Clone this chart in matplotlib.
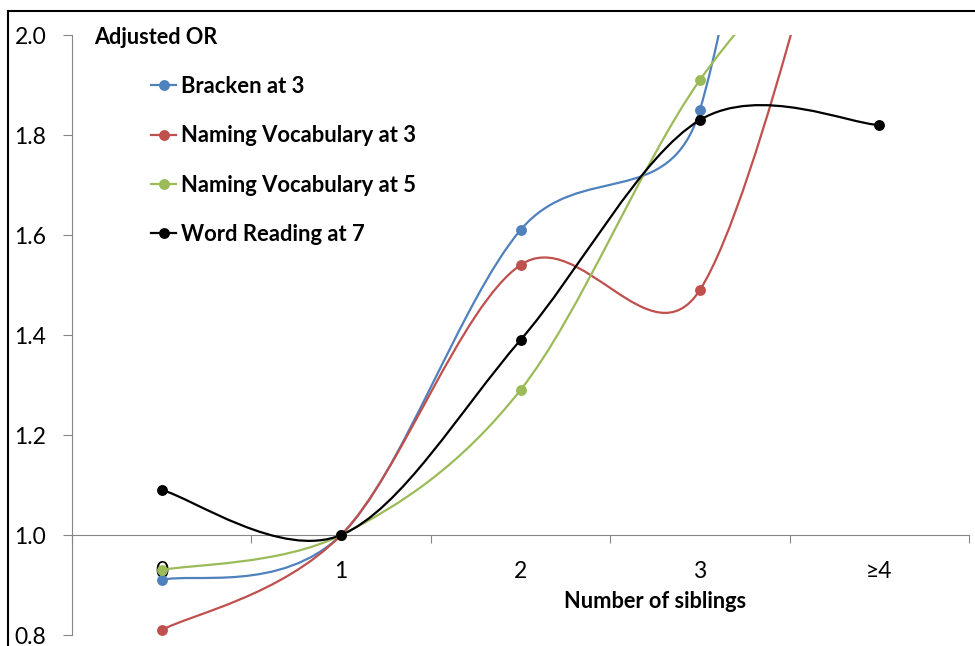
import matplotlib
matplotlib.use('Agg')
import matplotlib.pyplot as plt
from matplotlib.path import Path
from matplotlib.patches import PathPatch
from matplotlib.lines import Line2D
import numpy as np

categories = ['0', '1', '2', '3', '≥4']
bracken_3 = [0.91, 1.00, 1.61, 1.85, 4.04]
naming_vocab_3 = [0.81, 1.00, 1.54, 1.49, 2.66]
naming_vocab_5 = [0.93, 1.00, 1.29, 1.91, 2.31]
word_reading_7 = [1.09, 1.00, 1.39, 1.83, 1.82]
series_names = ['Bracken at 3', 'Naming Vocabulary at 3',
                'Naming Vocabulary at 5', 'Word Reading at 7']
series_values = [bracken_3, naming_vocab_3, naming_vocab_5, word_reading_7]
colors = ['#4F81BD', '#C0504D', '#9BBB59', '#000000']
yticks = [0.8, 1.0, 1.2, 1.4, 1.6, 1.8, 2.0]
ytick_labels = ['0.8', '1.0', '1.2', '1.4', '1.6', '1.8', '2.0']

plt.rcParams['font.family'] = ['Lato', 'DejaVu Sans']

AXIS_GRAY = '#868686'


def smooth_path(ax, xs, ys):
    """Excel-like smoothed line: cubic Bezier segments built in screen space,
    with control arms limited to half of the segment length."""
    data = np.column_stack([xs, ys]).astype(float)
    pts = ax.transData.transform(data)
    n = len(pts)
    verts = [pts[0]]
    codes = [Path.MOVETO]
    for i in range(n - 1):
        p0 = pts[i - 1] if i > 0 else pts[i]
        p1 = pts[i]
        p2 = pts[i + 1]
        p3 = pts[i + 2] if i + 2 < n else pts[i + 1]
        d02 = np.hypot(*(p2 - p0))
        d12 = np.hypot(*(p2 - p1))
        d13 = np.hypot(*(p3 - p1))
        f0 = 1 / 6.0
        f1 = 1 / 6.0
        if d02 / 6.0 >= d12 / 2.0 and d02 > 0:
            f0 = d12 / 2.0 / d02
        if d13 / 6.0 >= d12 / 2.0 and d13 > 0:
            f1 = d12 / 2.0 / d13
        c1 = p1 + (p2 - p0) * f0
        c2 = p2 - (p3 - p1) * f1
        verts += [c1, c2, p2]
        codes += [Path.CURVE4] * 3
    verts = ax.transData.inverted().transform(np.array(verts))
    return Path(verts, codes)


W, H = 975, 646
fig = plt.figure(figsize=(W / 100, H / 100), dpi=100)
ax = fig.add_axes([72 / W, 1 - 635 / H, 897 / W, 600 / H])

x = np.arange(len(categories))
ax.set_xlim(-0.5, len(categories) - 0.5)
ax.set_ylim(0.8, 2.0)

handles = []
for name, vals, col in zip(series_names, series_values, colors):
    patch = PathPatch(smooth_path(ax, x, vals), facecolor='none', edgecolor=col,
                      lw=1.6, transform=ax.transData, zorder=3)
    ax.add_patch(patch)
    ax.plot(x, vals, 'o', color=col, ms=6.8, zorder=4)
    handles.append(Line2D([], [], color=col, lw=1.6, marker='o', ms=6.8))

for s in ['top', 'right']:
    ax.spines[s].set_visible(False)
ax.spines['left'].set_color(AXIS_GRAY)
ax.spines['bottom'].set_color(AXIS_GRAY)
ax.spines['bottom'].set_position(('data', 1.0))

ax.set_yticks(yticks)
ax.set_yticklabels(ytick_labels)
ax.tick_params(axis='y', direction='out', length=6.5, color=AXIS_GRAY,
               labelsize=16.5, pad=12)

ax.set_xticks(np.arange(len(categories) + 1) - 0.5)
ax.set_xticklabels([''] * (len(categories) + 1))
ax.set_xticks(x, minor=True)
ax.set_xticklabels(categories, minor=True)
ax.tick_params(axis='x', which='major', direction='out', length=6, color=AXIS_GRAY)
ax.tick_params(axis='x', which='minor', length=0, labelsize=16.5, pad=19)

fig.text(655 / W, 1 - 602 / H, 'Number of siblings', fontsize=15.7,
         fontweight='bold', ha='center', va='center')
fig.text(94 / W, 1 - 37 / H, 'Adjusted OR', fontsize=15.6,
         fontweight='bold', ha='left', va='center')

ax.legend(handles, series_names, loc='upper left',
          bbox_to_anchor=(151 / W, 1 - 76 / H), bbox_transform=fig.transFigure,
          frameon=False, prop={'weight': 'bold', 'size': 15.8},
          handlelength=1.15, handletextpad=0.22, labelspacing=1.29,
          borderpad=0, borderaxespad=0)

# outer chart border (cut at right and bottom in the reference)
fig.add_artist(Line2D([8 / W, 1], [1 - 11 / H, 1 - 11 / H], color='black', lw=1.5,
                      transform=fig.transFigure))
fig.add_artist(Line2D([8 / W, 8 / W], [0, 1 - 11 / H], color='black', lw=1.5,
                      transform=fig.transFigure))

fig.savefig('out.png', dpi=100)
